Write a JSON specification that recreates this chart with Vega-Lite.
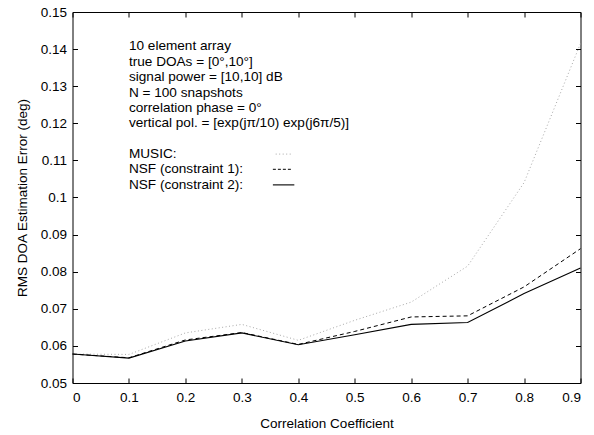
{
  "$schema": "https://vega.github.io/schema/vega-lite/v6.json",
  "width": 508,
  "height": 371,
  "autosize": {"type": "none"},
  "padding": {"left": 72.5, "top": 12, "right": 13.5, "bottom": 52},
  "background": "white",
  "config": {
    "view": {"stroke": "black", "strokeWidth": 1},
    "font": "Liberation Sans",
    "axis": {
      "grid": false,
      "domain": false,
      "tickColor": "black",
      "tickSize": -5,
      "labelFont": "Liberation Sans",
      "labelFontSize": 13.5,
      "labelColor": "black",
      "titleFont": "Liberation Sans",
      "titleFontSize": 13.5,
      "titleFontWeight": "normal",
      "titleColor": "black"
    }
  },
  "datasets": {
    "curves": [
      {"rho": 0.0, "series": "MUSIC", "err": 0.0578},
      {"rho": 0.1, "series": "MUSIC", "err": 0.0577},
      {"rho": 0.2, "series": "MUSIC", "err": 0.0635},
      {"rho": 0.3, "series": "MUSIC", "err": 0.0658},
      {"rho": 0.4, "series": "MUSIC", "err": 0.0615},
      {"rho": 0.5, "series": "MUSIC", "err": 0.0669},
      {"rho": 0.6, "series": "MUSIC", "err": 0.0718},
      {"rho": 0.7, "series": "MUSIC", "err": 0.0815},
      {"rho": 0.8, "series": "MUSIC", "err": 0.1040},
      {"rho": 0.9, "series": "MUSIC", "err": 0.1415},
      {"rho": 0.0, "series": "NSF1", "err": 0.0578},
      {"rho": 0.1, "series": "NSF1", "err": 0.0568},
      {"rho": 0.2, "series": "NSF1", "err": 0.0616},
      {"rho": 0.3, "series": "NSF1", "err": 0.0636},
      {"rho": 0.4, "series": "NSF1", "err": 0.0604},
      {"rho": 0.5, "series": "NSF1", "err": 0.0639},
      {"rho": 0.6, "series": "NSF1", "err": 0.0678},
      {"rho": 0.7, "series": "NSF1", "err": 0.0681},
      {"rho": 0.8, "series": "NSF1", "err": 0.0759},
      {"rho": 0.9, "series": "NSF1", "err": 0.0862},
      {"rho": 0.0, "series": "NSF2", "err": 0.0578},
      {"rho": 0.1, "series": "NSF2", "err": 0.0567},
      {"rho": 0.2, "series": "NSF2", "err": 0.0613},
      {"rho": 0.3, "series": "NSF2", "err": 0.0635},
      {"rho": 0.4, "series": "NSF2", "err": 0.0603},
      {"rho": 0.5, "series": "NSF2", "err": 0.0630},
      {"rho": 0.6, "series": "NSF2", "err": 0.0658},
      {"rho": 0.7, "series": "NSF2", "err": 0.0663},
      {"rho": 0.8, "series": "NSF2", "err": 0.0741},
      {"rho": 0.9, "series": "NSF2", "err": 0.0810}
    ],
    "notes": [
      {"x": 0.1, "y": 0.1408, "label": "10 element array"},
      {"x": 0.1, "y": 0.1366, "label": "true DOAs = [0°,10°]"},
      {"x": 0.1, "y": 0.1325, "label": "signal power = [10,10] dB"},
      {"x": 0.1, "y": 0.1283, "label": "N = 100 snapshots"},
      {"x": 0.1, "y": 0.1242, "label": "correlation phase = 0°"},
      {"x": 0.1, "y": 0.1200, "label": "vertical pol. = [exp(jπ/10) exp(j6π/5)]"},
      {"x": 0.1, "y": 0.1117, "label": "MUSIC:"},
      {"x": 0.1, "y": 0.1076, "label": "NSF (constraint 1):"},
      {"x": 0.1, "y": 0.1034, "label": "NSF (constraint 2):"}
    ],
    "keys": [
      {"series": "MUSIC", "x": 0.36, "x2": 0.39, "y": 0.1117},
      {"series": "NSF1", "x": 0.355, "x2": 0.39, "y": 0.1076},
      {"series": "NSF2", "x": 0.355, "x2": 0.393, "y": 0.1034}
    ]
  },
  "resolve": {"axis": {"x": "independent", "y": "independent"}},
  "layer": [
    {
      "data": {"name": "curves"},
      "transform": [{"filter": "datum.series === 'MUSIC'"}],
      "mark": {"type": "line", "color": "#a8a8a8", "strokeWidth": 1, "strokeDash": [1, 2.5]},
      "encoding": {
        "x": {"field": "rho", "type": "quantitative", "scale": {"domain": [0, 0.9], "nice": false, "zero": false},
              "axis": {"orient": "top", "labels": false, "title": null, "values": [0, 0.1, 0.2, 0.3, 0.4, 0.5, 0.6, 0.7, 0.8, 0.9]}},
        "y": {"field": "err", "type": "quantitative", "scale": {"domain": [0.05, 0.15], "nice": false, "zero": false},
              "axis": {"orient": "right", "labels": false, "title": null, "values": [0.05, 0.06, 0.07, 0.08, 0.09, 0.1, 0.11, 0.12, 0.13, 0.14, 0.15]}}
      }
    },
    {
      "data": {"name": "curves"},
      "transform": [{"filter": "datum.series === 'NSF1'"}],
      "mark": {"type": "line", "color": "black", "strokeWidth": 1, "strokeDash": [4, 3]},
      "encoding": {
        "x": {"field": "rho", "type": "quantitative", "scale": {"domain": [0, 0.9], "nice": false, "zero": false},
              "axis": {"orient": "bottom", "title": "Correlation Coefficient", "format": "~g", "labelPadding": 12, "titlePadding": 13,
                       "values": [0, 0.1, 0.2, 0.3, 0.4, 0.5, 0.6, 0.7, 0.8, 0.9]}},
        "y": {"field": "err", "type": "quantitative", "scale": {"domain": [0.05, 0.15], "nice": false, "zero": false},
              "axis": {"orient": "left", "title": "RMS DOA Estimation Error (deg)", "format": "~g", "labelPadding": 11, "titlePadding": 11,
                       "values": [0.05, 0.06, 0.07, 0.08, 0.09, 0.1, 0.11, 0.12, 0.13, 0.14, 0.15]}}
      }
    },
    {
      "data": {"name": "curves"},
      "transform": [{"filter": "datum.series === 'NSF2'"}],
      "mark": {"type": "line", "color": "black", "strokeWidth": 1.1},
      "encoding": {
        "x": {"field": "rho", "type": "quantitative", "axis": null},
        "y": {"field": "err", "type": "quantitative", "axis": null}
      }
    },
    {
      "data": {"name": "notes"},
      "mark": {"type": "text", "align": "left", "baseline": "middle", "fontSize": 13.6, "font": "Liberation Sans", "color": "black"},
      "encoding": {
        "x": {"field": "x", "type": "quantitative", "axis": null},
        "y": {"field": "y", "type": "quantitative", "axis": null},
        "text": {"field": "label"}
      }
    },
    {
      "data": {"name": "keys"},
      "transform": [{"filter": "datum.series === 'MUSIC'"}],
      "mark": {"type": "rule", "color": "#a8a8a8", "strokeWidth": 1, "strokeDash": [1, 2.5]},
      "encoding": {
        "x": {"field": "x", "type": "quantitative", "axis": null},
        "x2": {"field": "x2"},
        "y": {"field": "y", "type": "quantitative", "axis": null}
      }
    },
    {
      "data": {"name": "keys"},
      "transform": [{"filter": "datum.series === 'NSF1'"}],
      "mark": {"type": "rule", "color": "black", "strokeWidth": 1, "strokeDash": [3, 2]},
      "encoding": {
        "x": {"field": "x", "type": "quantitative", "axis": null},
        "x2": {"field": "x2"},
        "y": {"field": "y", "type": "quantitative", "axis": null}
      }
    },
    {
      "data": {"name": "keys"},
      "transform": [{"filter": "datum.series === 'NSF2'"}],
      "mark": {"type": "rule", "color": "black", "strokeWidth": 1.1},
      "encoding": {
        "x": {"field": "x", "type": "quantitative", "axis": null},
        "x2": {"field": "x2"},
        "y": {"field": "y", "type": "quantitative", "axis": null}
      }
    }
  ]
}
